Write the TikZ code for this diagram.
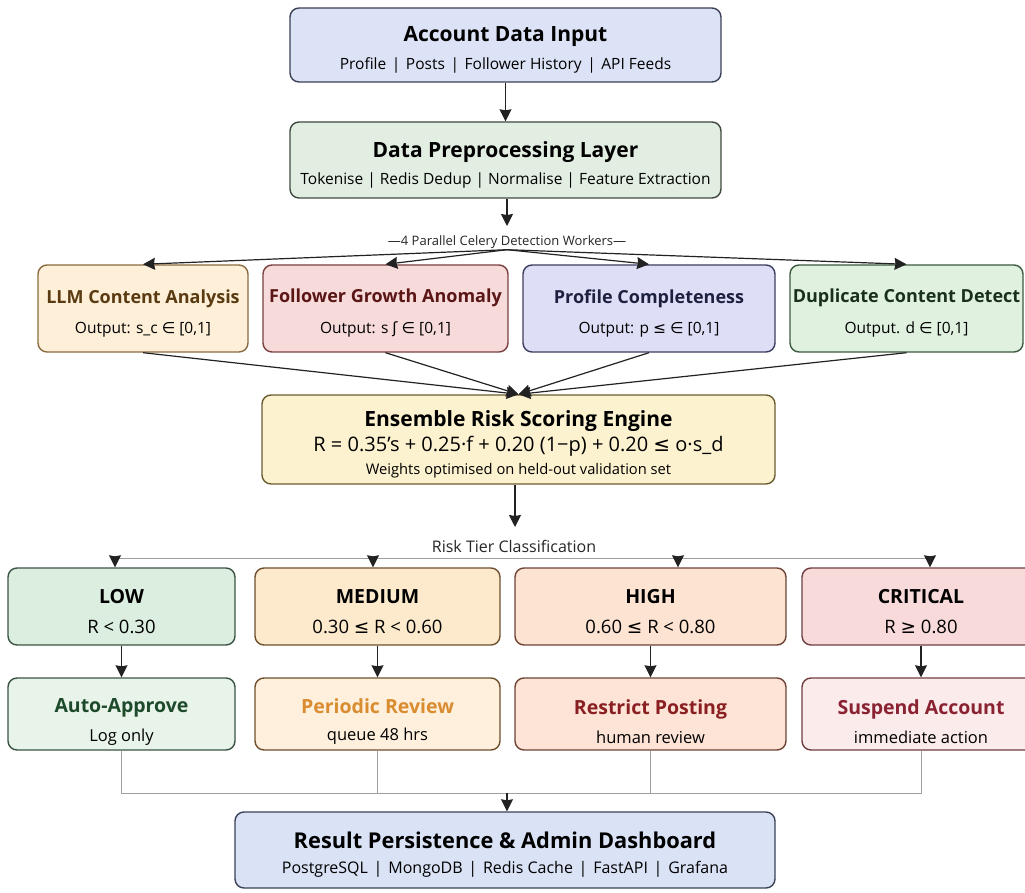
\documentclass[tikz,border=0pt]{standalone}
\usepackage{fontspec}
\setmainfont{Open Sans}
\newfontfamily\symf{DejaVu Sans}
\usetikzlibrary{positioning}
\usetikzlibrary{arrows.meta}

\definecolor{inbg}{HTML}{DCE3F6}
\definecolor{inbd}{HTML}{3B4156}
\definecolor{prepbg}{HTML}{E3EEE3}
\definecolor{prepbd}{HTML}{3D4A3D}
\definecolor{llmbg}{HTML}{FDEFD8}
\definecolor{llmbd}{HTML}{8B6B40}
\definecolor{llmtx}{HTML}{5A3A10}
\definecolor{follbg}{HTML}{F7DADA}
\definecolor{follbd}{HTML}{7A4040}
\definecolor{folltx}{HTML}{5A1515}
\definecolor{profbg}{HTML}{DEDFF6}
\definecolor{profbd}{HTML}{3C3E60}
\definecolor{proftx}{HTML}{1E2040}
\definecolor{dupbg}{HTML}{E0F1E0}
\definecolor{dupbd}{HTML}{3C5A40}
\definecolor{duptx}{HTML}{18301C}
\definecolor{ensbg}{HTML}{FDF2CF}
\definecolor{ensbd}{HTML}{6B5C30}
\definecolor{lowbg}{HTML}{DBEEE0}
\definecolor{lowbd}{HTML}{3A5443}
\definecolor{medbg}{HTML}{FDEACC}
\definecolor{medbd}{HTML}{6E4F2E}
\definecolor{highbg}{HTML}{FDE3D2}
\definecolor{highbd}{HTML}{6E4234}
\definecolor{critbg}{HTML}{F8DADB}
\definecolor{critbd}{HTML}{6E3E40}
\definecolor{apprbg}{HTML}{E8F3EA}
\definecolor{apprtx}{HTML}{1D4A2B}
\definecolor{revbg}{HTML}{FEF0DC}
\definecolor{revtx}{HTML}{D98C30}
\definecolor{restbg}{HTML}{FDE4D6}
\definecolor{resttx}{HTML}{8A1F22}
\definecolor{suspbg}{HTML}{FCEBEB}
\definecolor{susptx}{HTML}{8A2232}
\definecolor{resbg}{HTML}{DAE2F5}
\definecolor{linec}{HTML}{222222}

% titles carry a strut so the text sits a little below the box centre
\newcommand{\bigttl}[1]{{\rule{0pt}{25pt}\fontsize{21}{25}\selectfont\bfseries #1}}
\newcommand{\wkttl}[1]{{\rule{0pt}{23.5pt}\fontsize{18}{22}\selectfont\bfseries #1}}
\newcommand{\tierttl}[1]{{\rule{0pt}{24.5pt}\fontsize{19.5}{23}\selectfont\bfseries #1}}
\newcommand{\actttl}[1]{{\rule{0pt}{30pt}\fontsize{19.5}{23}\selectfont\bfseries #1}}
\newcommand{\subtx}[1]{{\fontsize{15.5}{18}\selectfont #1}}
\newcommand{\symtx}[1]{{\symf #1}}
\newcommand{\sep}{\hspace{0.36em}\textbar\hspace{0.36em}}

\tikzset{
  box/.style={draw, line width=1.4pt, rounded corners=9pt, align=center, inner sep=0pt},
  arr/.style={-{Stealth[length=12pt,width=12pt,inset=1pt]}, line width=1.2pt, draw=linec},
  feed/.style={draw=gray!75, line width=1pt},
  caption/.style={font=\fontsize{13}{16}\selectfont, text=black!85, inner sep=1pt},
}

\begin{document}
\begin{tikzpicture}[x=1pt,y=-1pt]
\useasboundingbox (0,0) rectangle (1025,893);

% input and preprocessing
\node[box, fill=inbg, draw=inbd, minimum width=431, minimum height=74] (acct) at (505.5,45)
  {\bigttl{Account Data Input}\\[10pt]\subtx{Profile\sep Posts\sep Follower History\sep API Feeds}};
\node[box, fill=prepbg, draw=prepbd, minimum width=431, minimum height=76] (prep) at (505.5,160)
  {\bigttl{Data Preprocessing Layer}\\[9pt]\subtx{Tokenise \textbar{} Redis Dedup \textbar{} Normalise \textbar{} Feature Extraction}};
\draw[arr] (acct.south) -- (prep.north);
\coordinate (prepout) at (507,226);
\draw[arr] (prepout |- prep.south) -- (prepout);
\node[caption] (wlab) at (507,242) {---4 Parallel Celery Detection Workers---};

% detection workers
\node[box, fill=llmbg, draw=llmbd, minimum width=210, minimum height=87] (llm) at (143,308.5)
  {\wkttl{\color{llmtx}LLM Content Analysis}\\[14pt]\subtx{Output: s\_c \symtx{∈} [0,1]}};
\node[box, fill=follbg, draw=follbd, minimum width=245, minimum height=87] (foll) at (385.5,308.5)
  {\wkttl{\color{folltx}Follower Growth Anomaly}\\[14pt]\subtx{Output: s \symtx{ʃ} \symtx{∈} [0,1]}};
\node[box, fill=profbg, draw=profbd, minimum width=252, minimum height=87] (prof) at (649,308.5)
  {\wkttl{\color{proftx}Profile Completeness}\\[14pt]\subtx{Output: p \symtx{≤} \symtx{∈} [0,1]}};
\node[box, fill=dupbg, draw=dupbd, minimum width=233, minimum height=87] (dup) at (906.5,308.5)
  {\wkttl{\color{duptx}Duplicate Content Detect}\\[14pt]\subtx{Output. d \symtx{∈} [0,1]}};
\foreach \w in {llm,foll,prof,dup}
  \draw[arr] (wlab.south) -- (\w.north);

% ensemble
\node[box, fill=ensbg, draw=ensbd, minimum width=513, minimum height=89] (ens) at (518.5,439.5)
  {\bigttl{Ensemble Risk Scoring Engine}\\[4pt]
   {\fontsize{20}{24}\selectfont R = 0.35’s + 0.25·f + 0.20 (1−p) + 0.20 \symtx{≤} o·s\_d}\\[6pt]
   {\fontsize{14.7}{18}\selectfont Weights optimised on held-out validation set}};
\foreach \w in {llm,foll,prof,dup}
  \draw[arr] (\w.south) -- (ens.north);

% risk tiers
\coordinate (tierin) at (515,527);
\draw[arr] (tierin |- ens.south) -- (tierin);
\node[caption, font=\fontsize{16}{19}\selectfont] (tlab) at (514,546) {Risk Tier Classification};
\coordinate (busl) at (115,558);
\coordinate (busr) at (930,558);
\draw[feed] (busl) -- (busr);

\node[box, fill=lowbg, draw=lowbd, minimum width=227, minimum height=77] (low) at (121.5,606.5)
  {\tierttl{LOW}\\[15pt]{\fontsize{18.5}{22}\selectfont R \textless{} 0.30}};
\node[box, fill=medbg, draw=medbd, minimum width=245, minimum height=77] (med) at (377.5,606.5)
  {\tierttl{MEDIUM}\\[15pt]{\fontsize{18.5}{22}\selectfont 0.30 \symtx{≤} R \textless{} 0.60}};
\node[box, fill=highbg, draw=highbd, minimum width=271, minimum height=77] (high) at (650.5,606.5)
  {\tierttl{HIGH}\\[15pt]{\fontsize{18.5}{22}\selectfont 0.60 \symtx{≤} R \textless{} 0.80}};
\node[box, fill=critbg, draw=critbd, minimum width=238, minimum height=77] (crit) at (921,606.5)
  {\tierttl{CRITICAL}\\[15pt]{\fontsize{18.5}{22}\selectfont R \symtx{≥} 0.80}};
\foreach \t/\x in {low/115,med/373,high/678,crit/930}
  \draw[arr] (\x,558) -- (\x,0 |- \t.north);

% actions
\node[box, fill=apprbg, draw=lowbd, minimum width=227, minimum height=72] (appr) at (121.5,714)
  {\actttl{\color{apprtx}Auto-Approve}\\[11pt]{\fontsize{16.5}{20}\selectfont Log only}};
\node[box, fill=revbg, draw=medbd, minimum width=245, minimum height=72] (review) at (377.5,714)
  {\actttl{\color{revtx}Periodic Review}\\[14pt]{\fontsize{16.5}{20}\selectfont queue 48 hrs}};
\node[box, fill=restbg, draw=highbd, minimum width=271, minimum height=72] (restr) at (650.5,714)
  {\actttl{\color{resttx}Restrict Posting}\\[10pt]{\fontsize{16.5}{20}\selectfont human review}};
\node[box, fill=suspbg, draw=critbd, minimum width=238, minimum height=72] (susp) at (921,714)
  {\actttl{\color{susptx}Suspend Account}\\[10pt]{\fontsize{16.5}{20}\selectfont immediate action}};
\foreach \t/\a in {low/appr,med/review,high/restr,crit/susp}
  \draw[arr] (\t.south) -- (\a.north);

% persistence
\node[box, fill=resbg, draw=inbd, minimum width=540, minimum height=76] (res) at (505,850)
  {{\rule{0pt}{26pt}\fontsize{21.8}{26}\selectfont\bfseries Result Persistence \& Admin Dashboard}\\[12pt]
   {\fontsize{16}{19}\selectfont PostgreSQL\sep MongoDB\sep Redis Cache\sep FastAPI\sep Grafana}};
\coordinate (joinl) at (121.5,793);
\coordinate (joinr) at (921,793);
\draw[feed] (appr.south) -- (joinl) -- (joinr) -- (susp.south);
\foreach \a in {review,restr}
  \draw[feed] (\a.south) -- (\a.south |- joinl);
\draw[arr] (507,793) -- (507,0 |- res.north);
\end{tikzpicture}
\end{document}
